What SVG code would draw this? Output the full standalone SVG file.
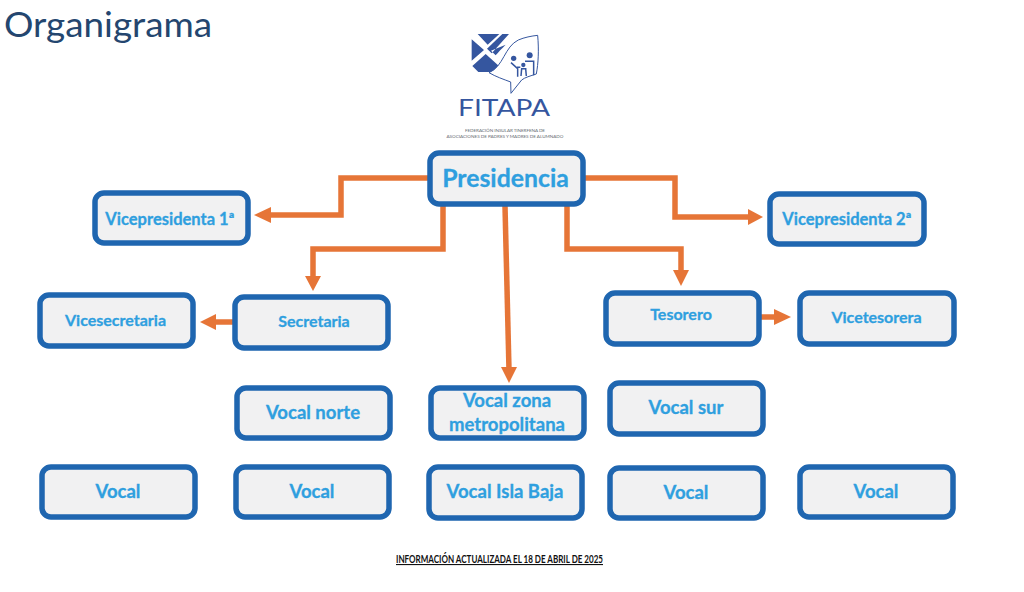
<svg xmlns="http://www.w3.org/2000/svg" width="1024" height="592" viewBox="0 0 1024 592">
<style>
.box{fill:#f1f1f2;stroke:#1f66b0;stroke-width:5.500}
.lbl{font-family:"Lato","Open Sans",sans-serif;font-weight:700;fill:#2f9fdf;stroke:#2f9fdf;stroke-width:.3;text-anchor:middle}
.c{fill:none;stroke:#e67537;stroke-width:5.500}
.h{fill:#e67537}
.lg{fill:#35569f}
.sm{font-family:Lato,sans-serif;font-size:4.600px;fill:#666a70;text-anchor:middle}
</style>
<rect width="1024" height="592" fill="#fff"/>
<text id="title" x="4" y="37" font-family="Lato,'Open Sans',sans-serif" font-size="34" fill="#24466f" textLength="208" lengthAdjust="spacingAndGlyphs">Organigrama</text>
<g id="logo">
<g transform="translate(465 30) scale(.3333)">
<path class="lg" d="M38 12H103L68 44ZM20 28L57 60L20 92ZM112 12H132L80 70L66 56ZM22 108L62 72L106 112L96 126H40ZM78 62L92 76C100 66 110 56 122 44Z"/>
<path d="M72 128C116 110 118 50 160 30C178 22 200 18 218 16C222 60 220 100 214 132C196 138 180 142 170 150L138 190L137 156C116 148 92 140 72 128Z" fill="#fff" stroke="#35569f" stroke-width="3"/>
<circle class="lg" cx="146" cy="85" r="8"/><circle class="lg" cx="194" cy="76" r="9"/><circle class="lg" cx="175" cy="105" r="6.500"/>
<path d="M138 98L158 116V140M156 112H166M168 116H184M170 116L168 138M182 116L184 138M180 94H206V136" fill="none" stroke="#35569f" stroke-width="4.500"/>
</g>
<text x="504" y="115.500" font-family="Lato,sans-serif" font-size="22.500" fill="#35569f" text-anchor="middle" textLength="92" lengthAdjust="spacingAndGlyphs">FITAPA</text>
<text class="sm" x="505" y="131.500" textLength="80" lengthAdjust="spacing">FEDERACIÓN INSULAR TINERFEÑA DE</text>
<text class="sm" x="505" y="138.200" textLength="117" lengthAdjust="spacing">ASOCIACIONES DE PADRES Y MADRES DE ALUMNADO</text>
</g>
<g id="connectors">
<path class="c" d="M429 178H341V215H268"/><path class="h" d="M254 215L271 207V223Z"/>
<path class="c" d="M443 206V249H313V278"/><path class="h" d="M313 291L305 276H321Z"/>
<path class="c" d="M234 322H214"/><path class="h" d="M200 322L216 314V330Z"/>
<path class="c" d="M505 206L509 370"/><path class="h" d="M509 383L501 367H517Z"/>
<path class="c" d="M584 178H675V217H750"/><path class="h" d="M763 217L748 209V225Z"/>
<path class="c" d="M567 206V249H681V272"/><path class="h" d="M681 286L673 270H689Z"/>
<path class="c" d="M760 317H776"/><path class="h" d="M791 317L774 309V325Z"/>
</g>
<g id="presidencia"><rect class="box" x="430" y="153" width="153" height="51" rx="9"/><text class="lbl" x="505.500" y="187" font-size="24.800">Presidencia</text></g>
<g id="vp1"><rect class="box" x="95" y="193" width="153" height="50" rx="9"/><text class="lbl" x="170" y="225" font-size="16.500">Vicepresidenta 1ª</text></g>
<g id="vp2"><rect class="box" x="770" y="194" width="154" height="50" rx="9"/><text class="lbl" x="847" y="225" font-size="16.500">Vicepresidenta 2ª</text></g>
<g id="secretaria"><rect class="box" x="235" y="297" width="153" height="51" rx="9"/><text class="lbl" x="314" y="327" font-size="16">Secretaria</text></g>
<g id="vicesecretaria"><rect class="box" x="40" y="295" width="153" height="51" rx="9"/><text class="lbl" x="115.500" y="326" font-size="16">Vicesecretaria</text></g>
<g id="tesorero"><rect class="box" x="606" y="293" width="153" height="51" rx="9"/><text class="lbl" x="681" y="320" font-size="16">Tesorero</text></g>
<g id="vicetesorera"><rect class="box" x="800" y="293" width="154" height="51" rx="9"/><text class="lbl" x="876.500" y="323" font-size="16">Vicetesorera</text></g>
<g id="vocal-norte"><rect class="box" x="237" y="388" width="153" height="50" rx="9"/><text class="lbl" x="313" y="419" font-size="18.500">Vocal norte</text></g>
<g id="vocal-metro"><rect class="box" x="431" y="388" width="153" height="50" rx="9"/><text class="lbl" x="507" y="407" font-size="18.500">Vocal zona</text><text class="lbl" x="507" y="431" font-size="18.500">metropolitana</text></g>
<g id="vocal-sur"><rect class="box" x="610" y="383" width="153" height="51" rx="9"/><text class="lbl" x="686" y="414" font-size="18.500">Vocal sur</text></g>
<g id="vocal-1"><rect class="box" x="42" y="467" width="153" height="50" rx="9"/><text class="lbl" x="118" y="498" font-size="18.500">Vocal</text></g>
<g id="vocal-2"><rect class="box" x="236" y="467" width="153" height="50" rx="9"/><text class="lbl" x="312" y="498" font-size="18.500">Vocal</text></g>
<g id="vocal-isla"><rect class="box" x="429" y="467" width="153" height="51" rx="9"/><text class="lbl" x="505" y="498" font-size="18.500">Vocal Isla Baja</text></g>
<g id="vocal-3"><rect class="box" x="610" y="468" width="153" height="50" rx="9"/><text class="lbl" x="686" y="499" font-size="18.500">Vocal</text></g>
<g id="vocal-4"><rect class="box" x="800" y="467" width="153" height="50" rx="9"/><text class="lbl" x="876" y="498" font-size="18.500">Vocal</text></g>
<text id="footer" x="396" y="563" font-family="Lato,sans-serif" font-size="11" font-weight="700" fill="#111" text-decoration="underline" textLength="207" lengthAdjust="spacingAndGlyphs">INFORMACIÓN ACTUALIZADA EL 18 DE ABRIL DE 2025</text>
</svg>
